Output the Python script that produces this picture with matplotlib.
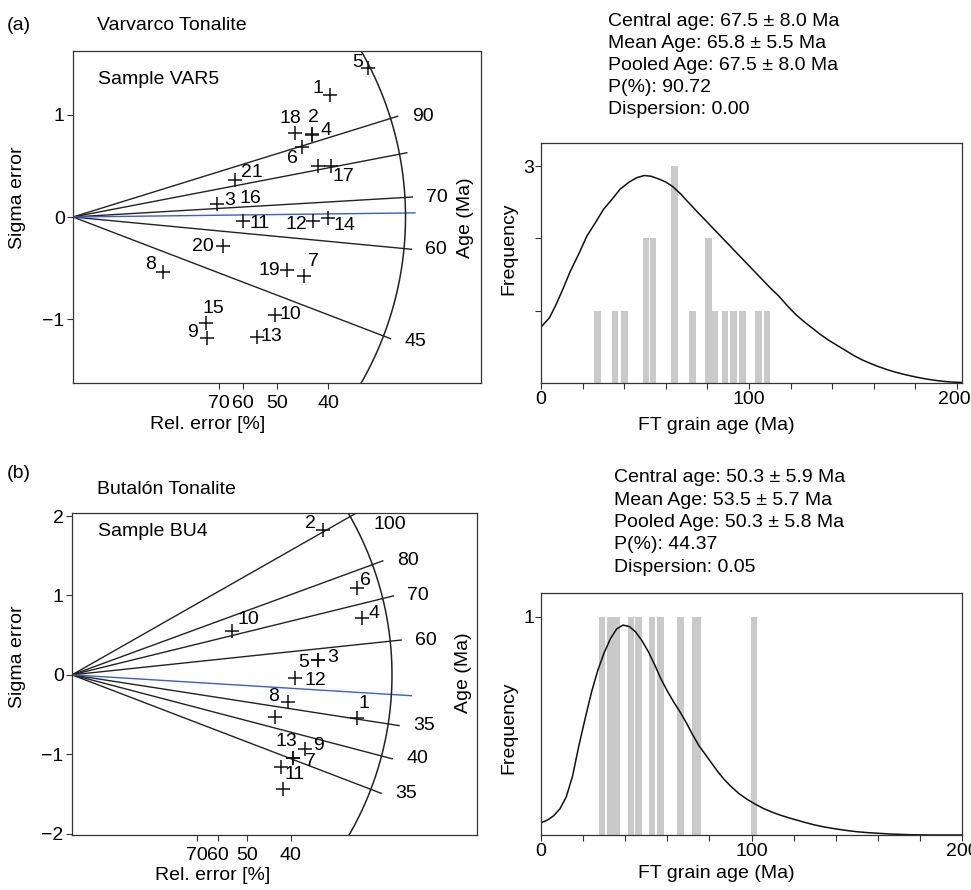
import numpy as np
import matplotlib.pyplot as plt
from matplotlib.transforms import ScaledTranslation

plt.rcParams['font.family'] = ['Liberation Sans', 'DejaVu Sans']
plt.rcParams['font.size'] = 14

# ---- (a) Varvarco Tonalite, sample VAR5 ----
var_grain = ["1", "2", "3", "4", "5", "6", "7", "8", "9", "10", "11",
             "12", "13", "14", "15", "16", "17", "18", "19", "20", "21"]
var_prec = [2.520, 2.340, 1.415, 2.348, 2.895, 2.242, 2.265, 0.885, 1.311, 1.980, 1.664,
            2.350, 1.801, 2.497, 1.301, 2.405, 2.529, 2.176, 2.095, 1.474, 1.593]
var_z = [1.197, 0.805, 0.127, 0.810, 1.464, 0.685, -0.581, -0.538, -1.184, -0.956, -0.043,
         -0.043, -1.174, -0.010, -1.037, 0.495, 0.502, 0.828, -0.523, -0.288, 0.360]
var_ages = [90, 80, 70, 60, 45]
var_age_text = ["90", "", "70", "60", "45"]
var_ref_age = 66.0
var_line_age = 66.8
var_hist_age = [27.2, 35.6, 40.2, 50.6, 53.8, 64.2, 72.8, 80.6, 83.5, 88.4, 92.6, 96.9, 104.6, 108.7]
var_hist_n = [1, 1, 1, 2, 2, 3, 1, 2, 1, 1, 1, 1, 1, 1]
var_pdf_x = [0, 4, 7, 10.4, 14, 18.4, 22, 26.4, 30, 34.4, 38, 42.4, 46, 49.6, 53, 56.8, 60,
             63.2, 67, 70.5, 74.4, 78.4, 82.4, 86.4, 90.4, 94.4, 98.4, 102.4, 106.4, 110.4,
             114.4, 118.4, 122.4, 126.4, 130.4, 134.4, 138.4, 142.4, 146.4, 150.4, 154.4,
             158.4, 162.4, 166.4, 170.4, 174.4, 178.4, 182.4, 186.4, 190.4, 194.4, 198, 202]
var_pdf_y = [0.775, 0.90, 1.07, 1.29, 1.54, 1.80, 2.03, 2.23, 2.40, 2.55, 2.68, 2.78, 2.84,
             2.87, 2.86, 2.82, 2.78, 2.72, 2.62, 2.51, 2.39, 2.27, 2.15, 2.03, 1.91, 1.79,
             1.67, 1.55, 1.43, 1.31, 1.20, 1.07, 0.95, 0.85, 0.76, 0.67, 0.59, 0.52, 0.45,
             0.38, 0.32, 0.27, 0.225, 0.185, 0.15, 0.12, 0.094, 0.07, 0.05, 0.033, 0.02,
             0.012, 0.008]
var_stats = ["Central age: 67.5 \u00b1 8.0 Ma", "Mean Age: 65.8 \u00b1 5.5 Ma",
             "Pooled Age: 67.5 \u00b1 8.0 Ma", "P(%): 90.72", "Dispersion: 0.00"]

# ---- (b) Butalón Tonalite, sample BU4 ----
bu_grain = ["2", "6", "4", "10", "3", "5", "12", "8", "", "1", "9", "13", "7", "11", ""]
bu_prec = [2.865, 3.254, 3.311, 1.825, 2.815, 2.815, 2.549, 2.472, 2.320, 3.261, 2.663,
           2.529, 2.529, 2.385, 2.408]
bu_z = [1.829, 1.093, 0.715, 0.546, 0.189, 0.189, -0.042, -0.337, -0.526, -0.538, -0.937,
        -1.050, -1.050, -1.156, -1.441]
bu_ages = [100, 80, 70, 60, 45, 40, 35]
bu_age_text = ["100", "80", "70", "60", "35", "40", "35"]
bu_ref_age = 53.4
bu_line_age = 49.9
bu_hist_age = [28.9, 33.0, 36.2, 42.7, 46.2, 52.7, 56.8, 66.2, 73.2, 74.3, 101.1]
bu_hist_n = [1, 1, 1, 1, 1, 1, 1, 1, 1, 1, 1]
bu_pdf_x = [0, 3, 6, 9, 12, 15, 18, 21, 24, 27, 30, 33, 36, 39, 42, 45, 48, 51, 54, 57, 60,
            63, 66, 69, 72, 75, 78, 81, 84, 87, 90, 94, 98, 102, 106, 110, 114, 118, 122,
            126, 130, 135, 140, 145, 150, 155, 160, 165, 170, 177, 185, 200]
bu_pdf_y = [0.056, 0.068, 0.088, 0.12, 0.175, 0.27, 0.41, 0.535, 0.655, 0.755, 0.835, 0.90,
            0.945, 0.962, 0.955, 0.93, 0.89, 0.84, 0.78, 0.715, 0.66, 0.61, 0.565, 0.515,
            0.46, 0.41, 0.37, 0.33, 0.29, 0.255, 0.225, 0.19, 0.163, 0.14, 0.12, 0.104,
            0.09, 0.078, 0.067, 0.056, 0.046, 0.036, 0.028, 0.021, 0.015, 0.011, 0.008,
            0.005, 0.003, 0.001, 0.0, 0.0]
bu_stats = ["Central age: 50.3 \u00b1 5.9 Ma", "Mean Age: 53.5 \u00b1 5.7 Ma",
            "Pooled Age: 50.3 \u00b1 5.8 Ma", "P(%): 44.37", "Dispersion: 0.05"]

rel_err = [70, 60, 50, 40]

# label offsets of the grain numbers (pixels)
var_off = [(-12, 6), (2, 17), (12, 4), (14, 4), (-11, 5), (-9, -11), (9, 15), (-13, 7), (-14, 5),
           (15, 0), (17, -2), (-16, -3), (15, 0), (17, -7), (8, 14), (-68, -32), (12, -11),
           (-5, 14), (-17, 0), (-20, 0), (16, 8)]
bu_off = [(-12, 6), (9, 8), (12, 5), (17, 12), (14, 2), (-15, -3), (20, -2), (-15, 5), (0, 0),
          (7, 14), (13, 4), (-7, 17), (17, -3), (14, -8), (0, 0)]

W, H = 971, 890
fig = plt.figure(figsize=(W / 100, H / 100), dpi=100)


def box(l, t, r, b):
    return [l / W, 1 - b / H, (r - l) / W, (b - t) / H]


def style(ax):
    for s in ax.spines.values():
        s.set_linewidth(0.9)
        s.set_color('#333333')
    ax.tick_params(direction='out', length=4, width=0.8, color='#333333')


def radial(ax, prec, z, names, offs, ages, age_text, ref_age, line_age,
           k, r_arc, r_line, r_blue, xlim, ylim, yticks, text_dy):
    style(ax)
    for age, txt, dy in zip(ages, age_text, text_dy):
        s = np.log(age / ref_age)
        xe = r_line / np.sqrt(1 + (k * s) ** 2)
        ax.plot([0, xe], [0, s * xe], color='#222222', lw=1.0)
        if txt:
            ax.annotate(txt, (xe, s * xe), xytext=(14, dy), textcoords='offset pixels',
                        ha='left', va='center', annotation_clip=False)
    s = np.log(line_age / ref_age)
    xe = r_blue / np.sqrt(1 + (k * s) ** 2)
    ax.plot([0, xe], [0, s * xe], color='#3d5fc4', lw=1.0)
    th = np.linspace(-np.pi / 2, np.pi / 2, 400)
    ax.plot(r_arc * np.cos(th), r_arc * np.sin(th) / k, color='#222222', lw=1.1)
    ax.plot(prec, z, '+', color='#111111', ms=10, mew=1.1)
    for n, x, y, (dx, dy) in zip(names, prec, z, offs):
        if n:
            ax.annotate(n, (x, y), xytext=(dx, dy), textcoords='offset pixels',
                        ha='center', va='center')
    ax.set_xlim(*xlim)
    ax.set_ylim(*ylim)
    ax.set_xticks(1 / (np.array(rel_err) / 100))
    ax.set_xticklabels([str(r) for r in rel_err])
    ax.set_yticks(yticks)
    ax.tick_params(axis='x', pad=5)
    ax.tick_params(axis='y', pad=2)


def hist(ax, ages, n, px, py, xlim, ylim, yticks, ylabels):
    style(ax)
    ax.bar(ages, n, width=3.1, color='#c9c9c9', linewidth=0)
    ax.plot(px, py, color='#111111', lw=1.1)
    ax.set_xlim(*xlim)
    ax.set_ylim(*ylim)
    xt = np.arange(0, 201, 20)
    ax.set_xticks(xt)
    ax.set_xticklabels([str(v) if v % 100 == 0 else '' for v in xt])
    ax.set_yticks(yticks)
    ax.set_yticklabels(ylabels)
    ax.tick_params(axis='x', pad=2)
    ax.tick_params(axis='y', pad=1)


# (a) radial
ax1 = fig.add_axes(box(73, 51, 481, 383))
radial(ax1, var_prec, var_z, var_grain, var_off, var_ages, var_age_text, var_ref_age,
       var_line_age, 1.0, 3.26, 3.333, 3.353, (0, 4.0), (-1.627, 1.627), [-1, 0, 1],
       [0, 0, 0, 0, -3])
# (b) radial
ax3 = fig.add_axes(box(72, 513, 477, 835))
radial(ax3, bu_prec, bu_z, bu_grain, bu_off, bu_ages, bu_age_text, bu_ref_age,
       bu_line_age, 79.3 / 87.5, 3.657, 3.783, 3.886, (0, 405 / 87.5), (-2.018, 2.039),
       [-2, -1, 0, 1, 2], [-13, 0, 0, 0, 0, 0, 0])

# histograms
ax2 = fig.add_axes(box(541, 143, 962, 383))
hist(ax2, var_hist_age, var_hist_n, var_pdf_x, var_pdf_y, (0, 202.4), (0, 3.32),
     [1, 2, 3], ['', '', '3'])
ax4 = fig.add_axes(box(541, 593, 962, 835))
hist(ax4, bu_hist_age, bu_hist_n, bu_pdf_x, bu_pdf_y, (0, 200), (0, 1.109), [1], ['1'])

# the last "200" of the upper histogram sits just inside the figure edge
lab = ax2.get_xticklabels()[-1]
lab.set_transform(lab.get_transform() + ScaledTranslation(-3 / 100, 0, fig.dpi_scale_trans))


def ftext(x, y, s, **kw):
    fig.text(x / W, 1 - y / H, s, **kw)


ftext(7, 25, "(a)", va='center')
ftext(7, 473, "(b)", va='center')
ftext(97, 25, "Varvarco Tonalite", va='center')
ftext(97, 490, "Butalón Tonalite", va='center')
ftext(98, 80, "Sample VAR5", va='center')
ftext(98, 532, "Sample BU4", va='center')
ftext(17, 198, "Sigma error", rotation=90, ha='center', va='center')
ftext(17, 657, "Sigma error", rotation=90, ha='center', va='center')
ftext(465, 218, "Age (Ma)", rotation=90, ha='center', va='center')
ftext(463, 673, "Age (Ma)", rotation=90, ha='center', va='center')
ftext(208, 425, "Rel. error [%]", ha='center', va='center')
ftext(213, 876, "Rel. error [%]", ha='center', va='center')
ftext(509, 249, "Frequency", rotation=90, ha='center', va='center')
ftext(509, 728, "Frequency", rotation=90, ha='center', va='center')
ftext(716, 426, "FT grain age (Ma)", ha='center', va='center')
ftext(716, 874, "FT grain age (Ma)", ha='center', va='center')

for i, line in enumerate(var_stats):
    ftext(608, 22 + 22 * i, line, va='center')
for i, line in enumerate(bu_stats):
    ftext(614, 478 + 22.3 * i, line, va='center')

fig.savefig("out.png", dpi=100)
